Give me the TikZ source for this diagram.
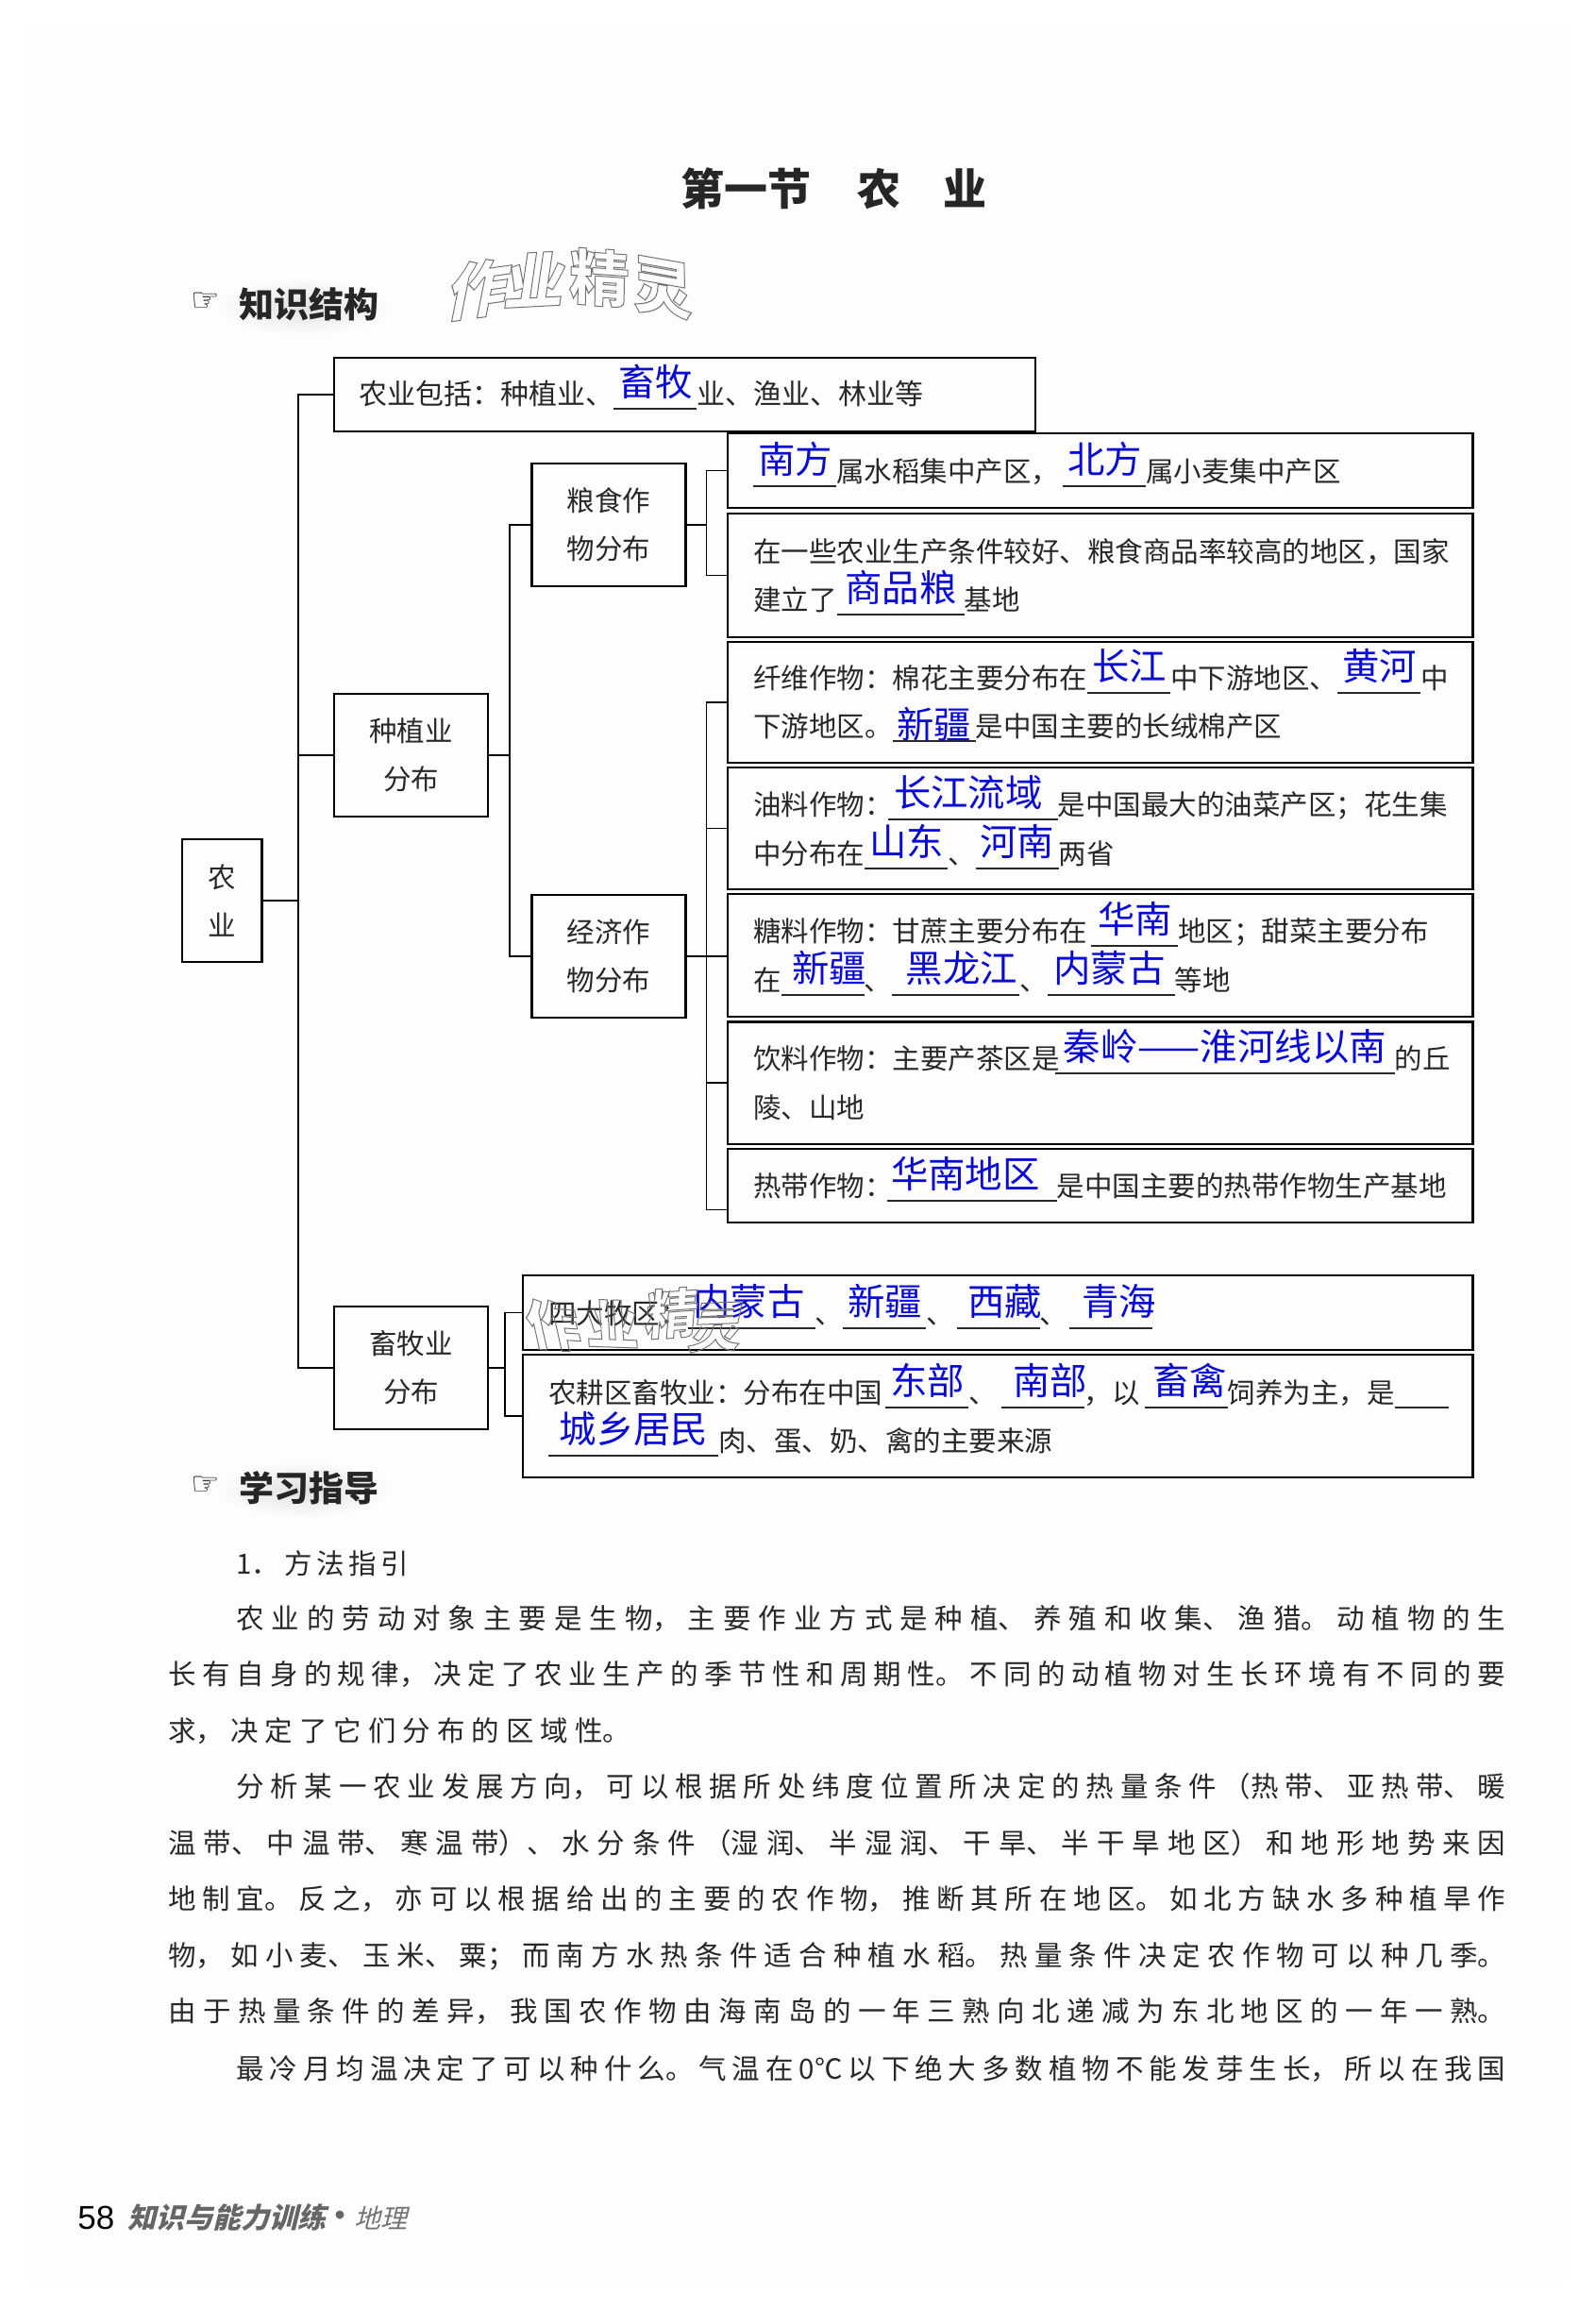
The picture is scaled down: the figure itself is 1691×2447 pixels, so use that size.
\documentclass[tikz,border=0pt]{standalone}
\usepackage{fontspec}
\setmainfont{Noto Sans CJK SC}
\newfontfamily\symbolfont{DejaVu Sans}
\newfontfamily\arialfont{Liberation Sans}
\newfontfamily\footerfont[FakeSlant=0.25]{Noto Sans CJK SC}
\XeTeXlinebreaklocale "zh"
\XeTeXlinebreakskip=0pt plus 4em
\XeTeXlinebreakpenalty=0
\hbadness=10000
\newdimen\pxu
\pxu=.5pt
\definecolor{ansblue}{RGB}{10,10,215}
\definecolor{pagetone}{RGB}{253,253,253}
\definecolor{inktone}{RGB}{40,40,40}
\newcommand{\nsize}{\fontsize{14.75}{25.5}\selectfont}
\newcommand{\gap}[1]{\hspace*{#1\pxu}}
\NewDocumentCommand{\ans}{O{0}O{0}mm}{\rlap{\rule[-2.5pt]{#3\pxu}{.6pt}}\makebox[#3\pxu][c]{\hspace*{#1\pxu}\raisebox{\dimexpr4.5pt-#2\pxu\relax}{\fontsize{19.7}{20}\selectfont\color{ansblue}#4}\hspace*{-#1\pxu}}}
\newcommand{\outlined}[1]{\special{pdf:code q 1 Tr 0.5 w 0.45 G}#1\special{pdf:code Q}}
\tikzset{
  wirebox/.style={draw,line width=1.25pt,inner sep=0pt,outer sep=0pt,minimum width=163\pxu,align=center,font=\nsize,text=inktone},
  leafbox/.style={draw,line width=1.25pt,inner sep=0pt,outer sep=0pt,minimum width=789.5\pxu},
  wire/.style={line width=.8pt},
  leafline/.style={anchor=base west,inner sep=0pt,yshift=-.75pt,font=\nsize,text=inktone},
  bodyline/.style={anchor=base west,inner sep=0pt,text width=#1\pxu,align=justify,font=\nsize,text=inktone,
    execute at begin node={\parfillskip=0pt\relax}},
  headline/.style={anchor=base west,inner sep=0pt,font=\fontsize{18.5}{20}\selectfont\bfseries,text=black!85},
  handmark/.style={inner sep=0pt,font=\fontsize{17}{18}\symbolfont\bfseries},
  stamp/.style={inner sep=0pt,transform shape,font=\fontsize{#1}{#1}\selectfont\bfseries,text=white}
}
\begin{document}
\begin{tikzpicture}[x=.5pt,y=-.5pt]
  \useasboundingbox (0,0) rectangle (1691,2447);
  \fill[white] (0,0) rectangle (1691,2447);
  \fill[pagetone] (30,28) rectangle (1663,2417);
  \node[anchor=base west,inner sep=0pt,font=\fontsize{23}{24}\selectfont\bfseries,text=black!85] (title) at (721,217)
    {第一节\hspace{49\pxu}农\hspace{45\pxu}业};
  % headings with their soft grey patch
  \shade[inner color=black!12,outer color=pagetone] (322,325) ellipse (92 and 30);
  \shade[inner color=black!12,outer color=pagetone] (322,1578) ellipse (92 and 30);
  \node[handmark] (hand1) at (218,320) {☞};
  \node[headline] (know) at (253,336) {知识结构};
  \node[handmark] (hand2) at (218,1574) {☞};
  \node[headline] (study) at (253,1590) {学习指导};
  % tree boxes
  \node[wirebox,minimum width=84.5\pxu,minimum height=130\pxu] (nongye) at (235.25,954) {农\\业};
  \node[leafbox,minimum width=743\pxu,minimum height=78\pxu] (baokuo) at (725.5,418) {};
  \node[wirebox,minimum height=130\pxu] (zhongzhi) at (435.5,800) {种植业\\分布};
  \node[wirebox,minimum height=130\pxu] (xumu) at (435.5,1449) {畜牧业\\分布};
  \node[wirebox,minimum height=130\pxu] (grain) at (645,556) {粮食作\\物分布};
  \node[wirebox,minimum height=130\pxu] (jingji) at (645,1013) {经济作\\物分布};
  \node[leafbox,minimum height=79\pxu] (nanbei) at (1165.75,498.5) {};
  \node[leafbox,minimum height=131\pxu] (jidi) at (1165.75,609.5) {};
  \node[leafbox,minimum height=128\pxu] (xianwei) at (1165.75,744) {};
  \node[leafbox,minimum height=129\pxu] (youliao) at (1165.75,877.5) {};
  \node[leafbox,minimum height=130\pxu] (tangliao) at (1165.75,1012) {};
  \node[leafbox,minimum height=129.5\pxu] (yinliao) at (1165.75,1147.25) {};
  \node[leafbox,minimum height=78\pxu] (redai) at (1165.75,1256) {};
  \node[leafbox,minimum width=1006.5\pxu,minimum height=79\pxu] (simu) at (1057.25,1390.5) {};
  \node[leafbox,minimum width=1006.5\pxu,minimum height=130\pxu] (nonggeng) at (1057.25,1500) {};
  % connectors
  \draw[wire] (nongye.east) -- ++(38.5,0);
  \draw[wire] (baokuo.west) -- ++(-38,0) |- (xumu.west);
  \draw[wire] (zhongzhi.west) -- ++(-38,0);
  \draw[wire] (zhongzhi.east) -- ++(23,0) coordinate (busplant);
  \draw[wire] (grain.west) -| (busplant) |- (jingji.west);
  \draw[wire] (grain.east) -- ++(22,0) coordinate (busgrain);
  \draw[wire] (nanbei.west) -| (busgrain) |- (jidi.west);
  \path (jingji.east) ++(22,0) coordinate (buscrop);
  \draw[wire] (jingji.east) -- (tangliao.west |- jingji.east);
  \draw[wire] (xianwei.west) -| (buscrop) |- ([yshift=-12.75pt]redai.west);
  \draw[wire] (youliao.west) -- (youliao.west -| buscrop);
  \draw[wire] (yinliao.west) -- (yinliao.west -| buscrop);
  \draw[wire] (xumu.east) -- ++(18,0) coordinate (busxumu);
  \draw[wire] (simu.west) -| (busxumu) |- (nonggeng.west);
  % lines inside the boxes
  \node[leafline,font=\fontsize{15}{25.5}\selectfont] (l0) at (380,427) {农业包括：种植业、\ans{88}{畜牧}业、渔业、林业等};
  \node[leafline] (l1) at (798,509) {\ans{88}{南方}属水稻集中产区，\gap{4}\ans{88}{北方}属小麦集中产区};
  \node[leafline] (l2) at (798,594) {在一些农业生产条件较好、粮食商品率较高的地区，国家};
  \node[leafline] (l3) at (798,645) {建立了\ans{135}{商品粮}基地};
  \node[leafline] (l4) at (798,728) {纤维作物：棉花主要分布在\ans{88}{长江}中下游地区、\ans{88}{黄河}中};
  \node[leafline] (l5) at (798,779) {下游地区。\ans[0][11]{88}{新疆}是中国主要的长绒棉产区};
  \node[leafline] (l6) at (798,862) {油料作物：\gap{-5}\ans[-5]{180}{长江流域}是中国最大的油菜产区；花生集};
  \node[leafline] (l7) at (798,914) {中分布在\ans{88}{山东}、\ans{88}{河南}两省};
  \node[leafline] (l8) at (798,996) {糖料作物：甘蔗主要分布在\gap{4}\ans{92}{华南}地区；甜菜主要分布};
  \node[leafline] (l9) at (798,1048) {在\ans[7]{88}{新疆}、\ans[6]{135}{黑龙江}、\ans[-2]{135}{内蒙古}等地};
  \node[leafline] (l10) at (798,1131) {饮料作物：主要产茶区是\gap{-5}\ans{360}{秦岭——淮河线以南}的丘};
  \node[leafline] (l11) at (798,1183) {陵、山地};
  \node[leafline] (l12) at (798,1266) {热带作物：\gap{-6}\ans[-7]{180}{华南地区}是中国主要的热带作物生产基地};
  \node[leafline] (l13) at (581,1401) {四大牧区：\ans[-3]{135}{内蒙古}、\ans{88}{新疆}、\gap{3}\ans[7]{88}{西藏}、\gap{2}\ans[8]{88}{青海}};
  \node[leafline] (l14) at (581,1485) {农耕区畜牧业：分布在中国\gap{3}\ans{88}{东部}、\gap{5}\ans[8]{88}{南部}，以\gap{5}\ans[4]{88}{畜禽}饲养为主，是\ans{57}{}};
  \node[leafline] (l15) at (581,1536) {\ans{180}{城乡居民}肉、蛋、奶、禽的主要来源};
  % body text
  \node[bodyline=183] (b0) at (250,1667) {1．方法指引};
  \node[bodyline=1345] (b1) at (250,1725) {农业的劳动对象主要是生物，主要作业方式是种植、养殖和收集、渔猎。动植物的生};
  \node[bodyline=1417] (b2) at (178,1784.5) {长有自身的规律，决定了农业生产的季节性和周期性。不同的动植物对生长环境有不同的要};
  \node[bodyline=490] (b3) at (178,1844) {求，决定了它们分布的区域性。};
  \node[bodyline=1345] (b4) at (250,1903.5) {分析某一农业发展方向，可以根据所处纬度位置所决定的热量条件（热带、亚热带、暖};
  \node[bodyline=1417] (b5) at (178,1963) {温带、中温带、寒温带）、水分条件（湿润、半湿润、干旱、半干旱地区）和地形地势来因};
  \node[bodyline=1417] (b6) at (178,2022.5) {地制宜。反之，亦可以根据给出的主要的农作物，推断其所在地区。如北方缺水多种植旱作};
  \node[bodyline=1417] (b7) at (178,2082) {物，如小麦、玉米、粟；而南方水热条件适合种植水稻。热量条件决定农作物可以种几季。};
  \node[bodyline=1417] (b8) at (178,2141.5) {由于热量条件的差异，我国农作物由海南岛的一年三熟向北递减为东北地区的一年一熟。};
  \node[bodyline=1345] (b9) at (250,2202) {最冷月均温决定了可以种什么。气温在0℃以下绝大多数植物不能发芽生长，所以在我国};
  % page foot
  \node[anchor=base west,inner sep=0pt,font=\fontsize{17.5}{18}\arialfont] (pagenum) at (82,2361) {58};
  \node[anchor=base west,inner sep=0pt,font=\fontsize{15}{16}\footerfont\bfseries,text=black!60] (foot) at (135,2360) {知识与能力训练};
  \node[inner sep=0pt,circle,fill=black!60,minimum size=9\pxu] (footdot) at (360,2346) {};
  \node[anchor=base west,inner sep=0pt,font=\fontsize{14}{15}\footerfont,text=black!55] (foot2) at (375,2360) {地理};
  % scan stamps, upper one
  \node[stamp=32,rotate=8,xslant=.35] (s1) at (508,306) {\outlined{作}};
  \node[stamp=32,rotate=3,xslant=.2] (s2) at (568,296) {\outlined{业}};
  \node[stamp=32,rotate=-4,xslant=-.05] (s3) at (635,294) {\outlined{精}};
  \node[stamp=32,rotate=-10,xslant=-.2] (s4) at (702,305) {\outlined{灵}};
  % lower one
  \node[stamp=28,rotate=-4,xslant=-.3] (s5) at (586,1404) {\outlined{作}};
  \node[stamp=28,rotate=-2,xslant=-.1] (s6) at (648,1402) {\outlined{业}};
  \node[stamp=28,rotate=4,xslant=.15] (s7) at (712,1391) {\outlined{精}};
  \node[stamp=28,rotate=2,xslant=.25] (s8) at (760,1406) {\outlined{灵}};
\end{tikzpicture}
\end{document}
